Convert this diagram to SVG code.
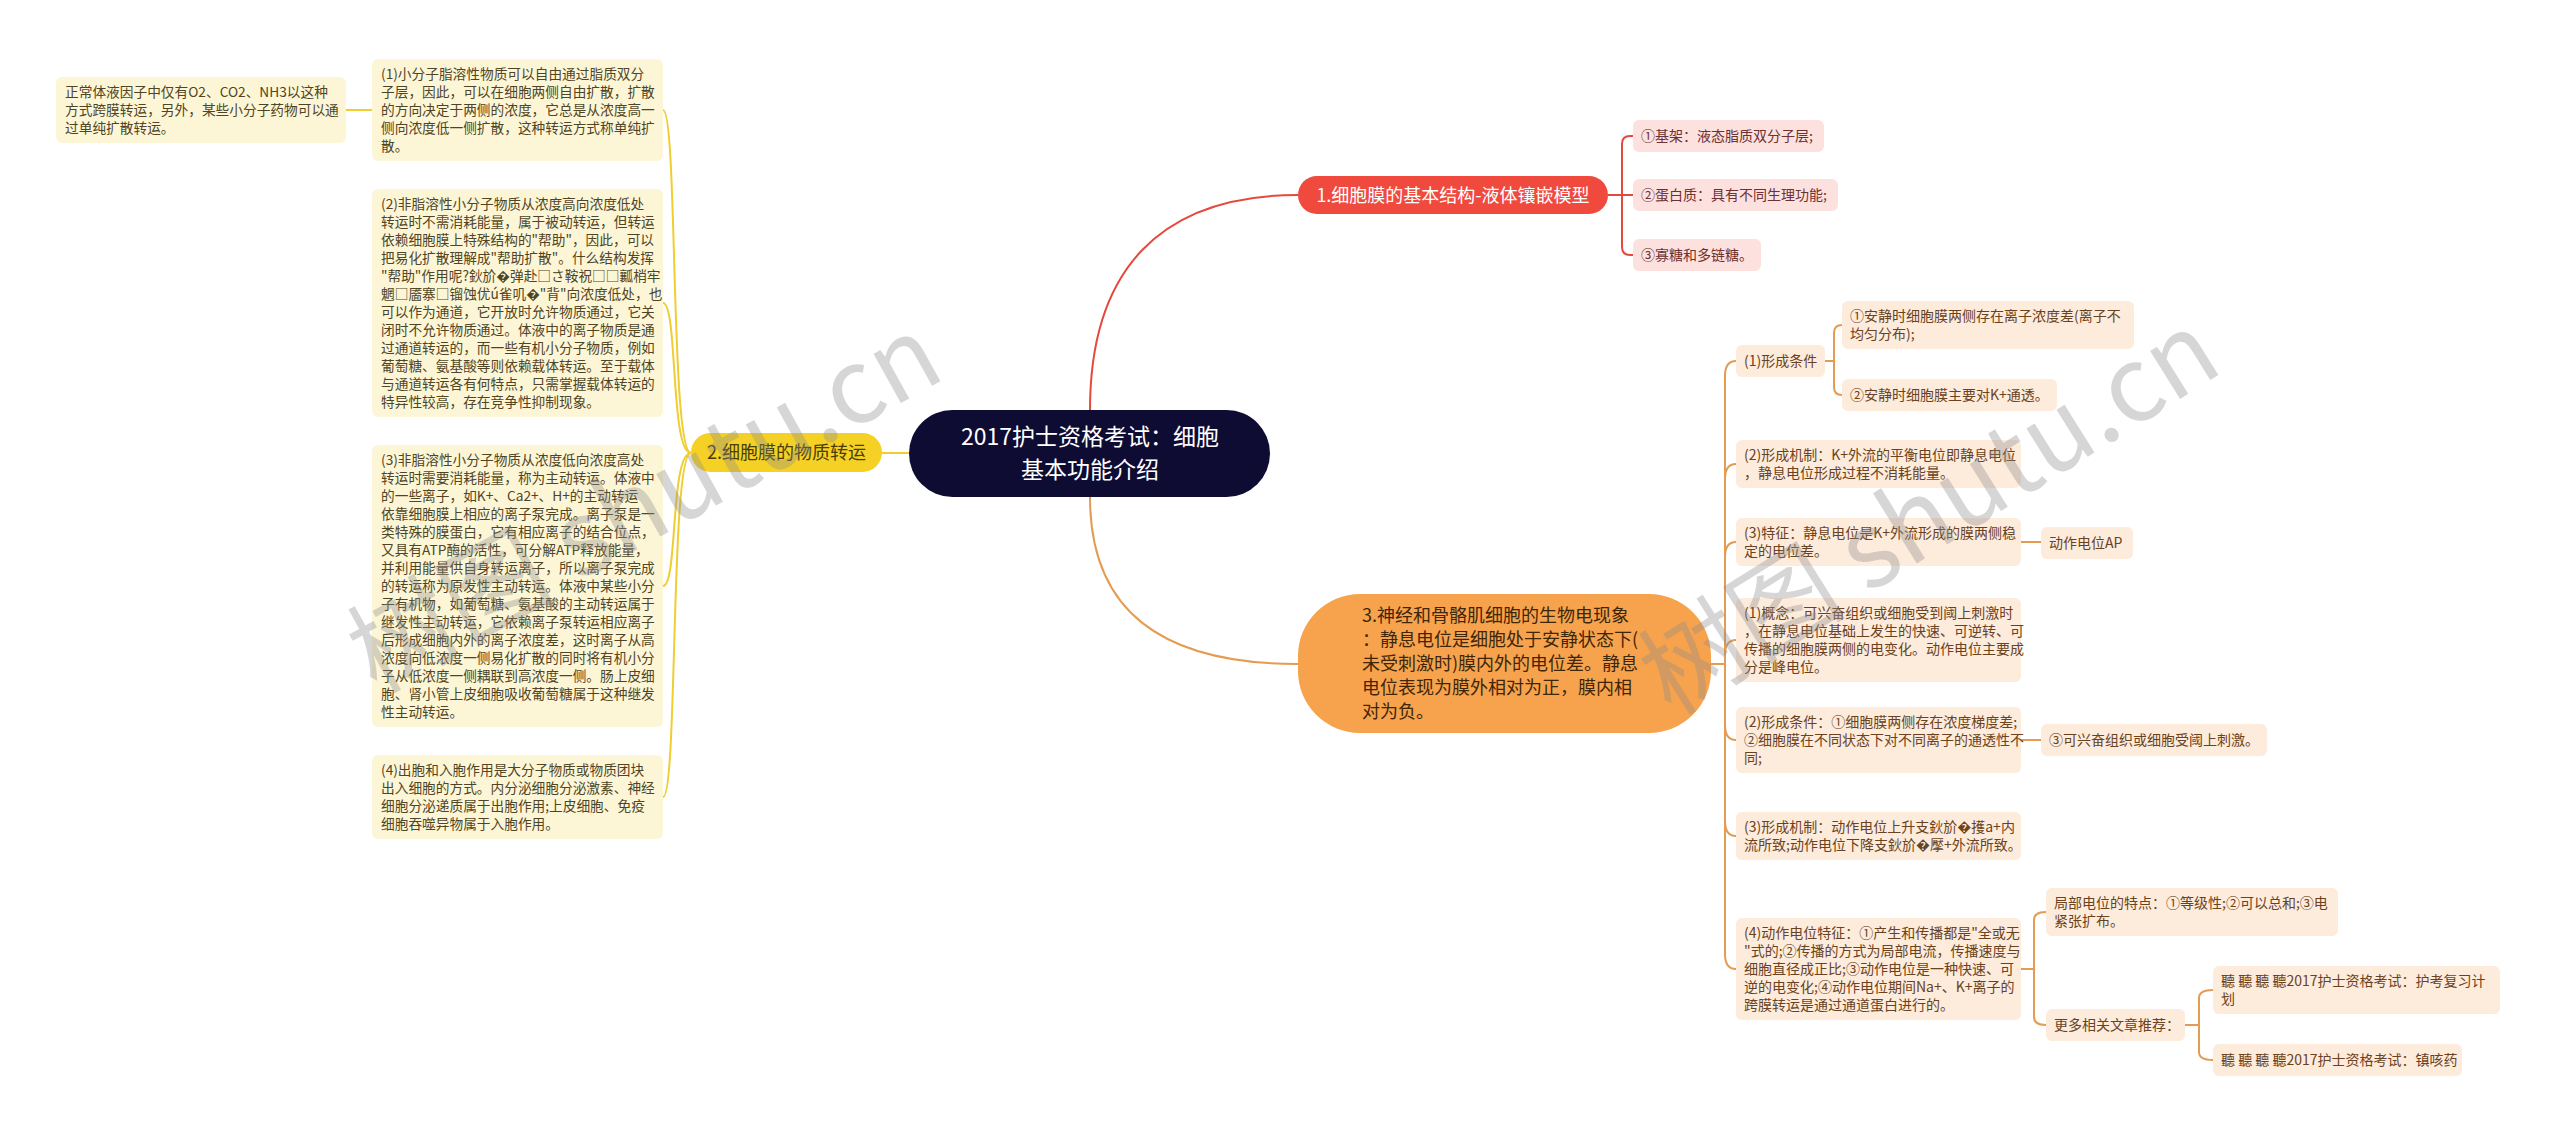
<svg xmlns="http://www.w3.org/2000/svg" width="2560" height="1135" viewBox="0 0 2560 1135">
<style>
text{font-family:"Noto Sans CJK SC","Noto Sans",sans-serif;}
.ly{fill:#fdf6d6;}
.lo{fill:#fdebdc;}
.lr{fill:#fde1df;}
.ty{font-size:13.7px;fill:#4f4525;}
.to{font-size:14px;fill:#6a4220;}
.tr{font-size:14px;fill:#6e3030;}
.cy{fill:none;stroke:#f0cd30;stroke-width:2;}
.co{fill:none;stroke:#e49b52;stroke-width:2;}
.cr{fill:none;stroke:#e5493d;stroke-width:2;}
.wm{font-size:104px;font-weight:normal;fill:#8c8c8c;opacity:0.35;}
</style>
<rect width="2560" height="1135" fill="#ffffff"/>
<g id="connectors">
<path class="cy" d="M909,453 H882"/>
<path class="cy" d="M691,453 C670,453 678,110 663,110"/>
<path class="cy" d="M691,453 C670,453 678,303 663,303"/>
<path class="cy" d="M691,453 C670,453 678,586 663,586"/>
<path class="cy" d="M691,453 C670,453 678,797 663,797"/>
<path class="cy" d="M346,110 H372"/>
<path class="cr" d="M1090,410 C1090,270 1160,195 1298,195"/>
<path class="cr" d="M1608,195 H1622 V144 Q1622,136 1630,136 H1633"/>
<path class="cr" d="M1608,195 H1633"/>
<path class="cr" d="M1622,195 V247 Q1622,255 1630,255 H1633"/>
<path class="co" d="M1090,497 C1090,610 1160,664 1298,664"/>
<path class="co" d="M1711,664 H1725 V376 Q1725,361 1736,361"/>
<path class="co" d="M1725,490 V479 Q1725,464 1736,464"/>
<path class="co" d="M1725,570 V557 Q1725,542 1736,542"/>
<path class="co" d="M1725,664 V655 Q1725,640 1736,640"/>
<path class="co" d="M1725,664 V725 Q1725,740 1736,740"/>
<path class="co" d="M1725,700 V821 Q1725,836 1736,836"/>
<path class="co" d="M1725,800 V954 Q1725,969 1736,969"/>
<path class="co" d="M1824,361 H1834 V333 Q1834,325 1842,325"/>
<path class="co" d="M1834,361 V387 Q1834,395 1842,395"/>
<path class="co" d="M2021,542 H2041"/>
<path class="co" d="M2021,740 H2041"/>
<path class="co" d="M2021,969 H2034 V920 Q2034,912 2046,912"/>
<path class="co" d="M2034,969 V1017 Q2034,1025 2046,1025"/>
<path class="co" d="M2185,1025 H2199 V998 Q2199,990 2213,990"/>
<path class="co" d="M2199,1025 V1052 Q2199,1060 2213,1060"/>
</g>
<g id="root">
<rect x="909" y="410" width="361" height="87" rx="43.5" fill="#0e0c33"/>
<text font-size="23" fill="#ffffff" text-anchor="middle"><tspan x="1090" y="445">2017护士资格考试：细胞</tspan><tspan x="1090" y="478">基本功能介绍</tspan></text>
</g>
<g id="n1">
<rect x="1298" y="176" width="310" height="38" rx="19" fill="#ef4a3d"/>
<text x="1453" y="201.5" font-size="18" fill="#ffffff" text-anchor="middle">1.细胞膜的基本结构-液体镶嵌模型</text>
</g>
<g id="n1-1"><rect class="lr" x="1633" y="120" width="191" height="32" rx="6"/><text class="tr" x="1641" y="141">①基架：液态脂质双分子层;</text></g>
<g id="n1-2"><rect class="lr" x="1633" y="179" width="205" height="32" rx="6"/><text class="tr" x="1641" y="200">②蛋白质：具有不同生理功能;</text></g>
<g id="n1-3"><rect class="lr" x="1633" y="239" width="128" height="32" rx="6"/><text class="tr" x="1641" y="260">③寡糖和多链糖。</text></g>
<g id="n2">
<rect x="691" y="433" width="191" height="39" rx="19.5" fill="#f5d125"/>
<text x="786.5" y="459" font-size="18" fill="#4a3d05" text-anchor="middle">2.细胞膜的物质转运</text>
</g>
<g id="n2-0"><rect class="ly" x="56" y="77" width="290" height="66" rx="6"/><text class="ty"><tspan x="65" y="97">正常体液因子中仅有O2、CO2、NH3以这种</tspan><tspan x="65" y="115">方式跨膜转运，另外，某些小分子药物可以通</tspan><tspan x="65" y="133">过单纯扩散转运。</tspan></text></g>
<g id="n2-1"><rect class="ly" x="372" y="59" width="291" height="102" rx="6"/><text class="ty"><tspan x="381" y="79">(1)小分子脂溶性物质可以自由通过脂质双分</tspan><tspan x="381" y="97">子层，因此，可以在细胞两侧自由扩散，扩散</tspan><tspan x="381" y="115">的方向决定于两侧的浓度，它总是从浓度高一</tspan><tspan x="381" y="133">侧向浓度低一侧扩散，这种转运方式称单纯扩</tspan><tspan x="381" y="151">散。</tspan></text></g>
<g id="n2-2"><rect class="ly" x="372" y="189" width="291" height="228" rx="6"/><text class="ty"><tspan x="381" y="209">(2)非脂溶性小分子物质从浓度高向浓度低处</tspan><tspan x="381" y="227">转运时不需消耗能量，属于被动转运，但转运</tspan><tspan x="381" y="245">依赖细胞膜上特殊结构的"帮助"，因此，可以</tspan><tspan x="381" y="263">把易化扩散理解成"帮助扩散"。什么结构发挥</tspan><tspan x="381" y="281">"帮助"作用呢?鈥斺�弹赴□さ鞍祝□□瓤梢牢</tspan><tspan x="381" y="299">魍□靥寨□镏蚀优ú雀叽�"背"向浓度低处，也</tspan><tspan x="381" y="317">可以作为通道，它开放时允许物质通过，它关</tspan><tspan x="381" y="335">闭时不允许物质通过。体液中的离子物质是通</tspan><tspan x="381" y="353">过通道转运的，而一些有机小分子物质，例如</tspan><tspan x="381" y="371">葡萄糖、氨基酸等则依赖载体转运。至于载体</tspan><tspan x="381" y="389">与通道转运各有何特点，只需掌握载体转运的</tspan><tspan x="381" y="407">特异性较高，存在竞争性抑制现象。</tspan></text></g>
<g id="n2-3"><rect class="ly" x="372" y="445" width="291" height="282" rx="6"/><text class="ty"><tspan x="381" y="465">(3)非脂溶性小分子物质从浓度低向浓度高处</tspan><tspan x="381" y="483">转运时需要消耗能量，称为主动转运。体液中</tspan><tspan x="381" y="501">的一些离子，如K+、Ca2+、H+的主动转运</tspan><tspan x="381" y="519">依靠细胞膜上相应的离子泵完成。离子泵是一</tspan><tspan x="381" y="537">类特殊的膜蛋白，它有相应离子的结合位点，</tspan><tspan x="381" y="555">又具有ATP酶的活性，可分解ATP释放能量，</tspan><tspan x="381" y="573">并利用能量供自身转运离子，所以离子泵完成</tspan><tspan x="381" y="591">的转运称为原发性主动转运。体液中某些小分</tspan><tspan x="381" y="609">子有机物，如葡萄糖、氨基酸的主动转运属于</tspan><tspan x="381" y="627">继发性主动转运，它依赖离子泵转运相应离子</tspan><tspan x="381" y="645">后形成细胞内外的离子浓度差，这时离子从高</tspan><tspan x="381" y="663">浓度向低浓度一侧易化扩散的同时将有机小分</tspan><tspan x="381" y="681">子从低浓度一侧耦联到高浓度一侧。肠上皮细</tspan><tspan x="381" y="699">胞、肾小管上皮细胞吸收葡萄糖属于这种继发</tspan><tspan x="381" y="717">性主动转运。</tspan></text></g>
<g id="n2-4"><rect class="ly" x="372" y="755" width="291" height="84" rx="6"/><text class="ty"><tspan x="381" y="775">(4)出胞和入胞作用是大分子物质或物质团块</tspan><tspan x="381" y="793">出入细胞的方式。内分泌细胞分泌激素、神经</tspan><tspan x="381" y="811">细胞分泌递质属于出胞作用;上皮细胞、免疫</tspan><tspan x="381" y="829">细胞吞噬异物属于入胞作用。</tspan></text></g>
<g id="n3">
<rect x="1298" y="594" width="413" height="139" rx="62" fill="#f7a24c"/>
<text font-size="18" fill="#3e2608"><tspan x="1362" y="622">3.神经和骨骼肌细胞的生物电现象</tspan><tspan x="1362" y="646">：静息电位是细胞处于安静状态下(</tspan><tspan x="1362" y="670">未受刺激时)膜内外的电位差。静息</tspan><tspan x="1362" y="694">电位表现为膜外相对为正，膜内相</tspan><tspan x="1362" y="718">对为负。</tspan></text>
</g>
<g id="n3-1"><rect class="lo" x="1736" y="345" width="89" height="32" rx="6"/><text class="to" x="1744" y="366">(1)形成条件</text></g>
<g id="n3-1-1"><rect class="lo" x="1842" y="301" width="292" height="48" rx="6"/><text class="to"><tspan x="1850" y="321">①安静时细胞膜两侧存在离子浓度差(离子不</tspan><tspan x="1850" y="339">均匀分布);</tspan></text></g>
<g id="n3-1-2"><rect class="lo" x="1842" y="379" width="215" height="32" rx="6"/><text class="to" x="1850" y="400">②安静时细胞膜主要对K+通透。</text></g>
<g id="n3-2"><rect class="lo" x="1736" y="440" width="285" height="48" rx="6"/><text class="to"><tspan x="1744" y="460">(2)形成机制：K+外流的平衡电位即静息电位</tspan><tspan x="1744" y="478">，静息电位形成过程不消耗能量。</tspan></text></g>
<g id="n3-3"><rect class="lo" x="1736" y="518" width="285" height="48" rx="6"/><text class="to"><tspan x="1744" y="538">(3)特征：静息电位是K+外流形成的膜两侧稳</tspan><tspan x="1744" y="556">定的电位差。</tspan></text></g>
<g id="n3-3-1"><rect class="lo" x="2041" y="527" width="92" height="32" rx="6"/><text class="to" x="2049" y="548">动作电位AP</text></g>
<g id="n3-4"><rect class="lo" x="1736" y="598" width="285" height="84" rx="6"/><text class="to"><tspan x="1744" y="618">(1)概念：可兴奋组织或细胞受到阈上刺激时</tspan><tspan x="1744" y="636">，在静息电位基础上发生的快速、可逆转、可</tspan><tspan x="1744" y="654">传播的细胞膜两侧的电变化。动作电位主要成</tspan><tspan x="1744" y="672">分是峰电位。</tspan></text></g>
<g id="n3-5"><rect class="lo" x="1736" y="707" width="285" height="66" rx="6"/><text class="to"><tspan x="1744" y="727">(2)形成条件：①细胞膜两侧存在浓度梯度差;</tspan><tspan x="1744" y="745">②细胞膜在不同状态下对不同离子的通透性不</tspan><tspan x="1744" y="763">同;</tspan></text></g>
<g id="n3-5-1"><rect class="lo" x="2041" y="724" width="226" height="32" rx="6"/><text class="to" x="2049" y="745">③可兴奋组织或细胞受阈上刺激。</text></g>
<g id="n3-6"><rect class="lo" x="1736" y="812" width="285" height="48" rx="6"/><text class="to"><tspan x="1744" y="832">(3)形成机制：动作电位上升支鈥斺�擭a+内</tspan><tspan x="1744" y="850">流所致;动作电位下降支鈥斺�擪+外流所致。</tspan></text></g>
<g id="n3-7"><rect class="lo" x="1736" y="918" width="285" height="102" rx="6"/><text class="to"><tspan x="1744" y="938">(4)动作电位特征：①产生和传播都是"全或无</tspan><tspan x="1744" y="956">"式的;②传播的方式为局部电流，传播速度与</tspan><tspan x="1744" y="974">细胞直径成正比;③动作电位是一种快速、可</tspan><tspan x="1744" y="992">逆的电变化;④动作电位期间Na+、K+离子的</tspan><tspan x="1744" y="1010">跨膜转运是通过通道蛋白进行的。</tspan></text></g>
<g id="n3-7-1"><rect class="lo" x="2046" y="888" width="292" height="48" rx="6"/><text class="to"><tspan x="2054" y="908">局部电位的特点：①等级性;②可以总和;③电</tspan><tspan x="2054" y="926">紧张扩布。</tspan></text></g>
<g id="n3-7-2"><rect class="lo" x="2046" y="1009" width="139" height="32" rx="6"/><text class="to" x="2054" y="1030">更多相关文章推荐：</text></g>
<g id="n3-7-2-1"><rect class="lo" x="2213" y="966" width="287" height="48" rx="6"/><text class="to"><tspan x="2221" y="986">聽 聽 聽 聽2017护士资格考试：护考复习计</tspan><tspan x="2221" y="1004">划</tspan></text></g>
<g id="n3-7-2-2"><rect class="lo" x="2213" y="1044" width="249" height="32" rx="6"/><text class="to" x="2221" y="1065">聽 聽 聽 聽2017护士资格考试：镇咳药</text></g>
<g id="watermarks">
<text class="wm" x="645" y="540" text-anchor="middle" transform="rotate(-29 645 505)">树图 shutu.cn</text>
<text class="wm" x="1930" y="549" text-anchor="middle" transform="rotate(-32 1930 514)">树图 shutu.cn</text>
</g>
</svg>
